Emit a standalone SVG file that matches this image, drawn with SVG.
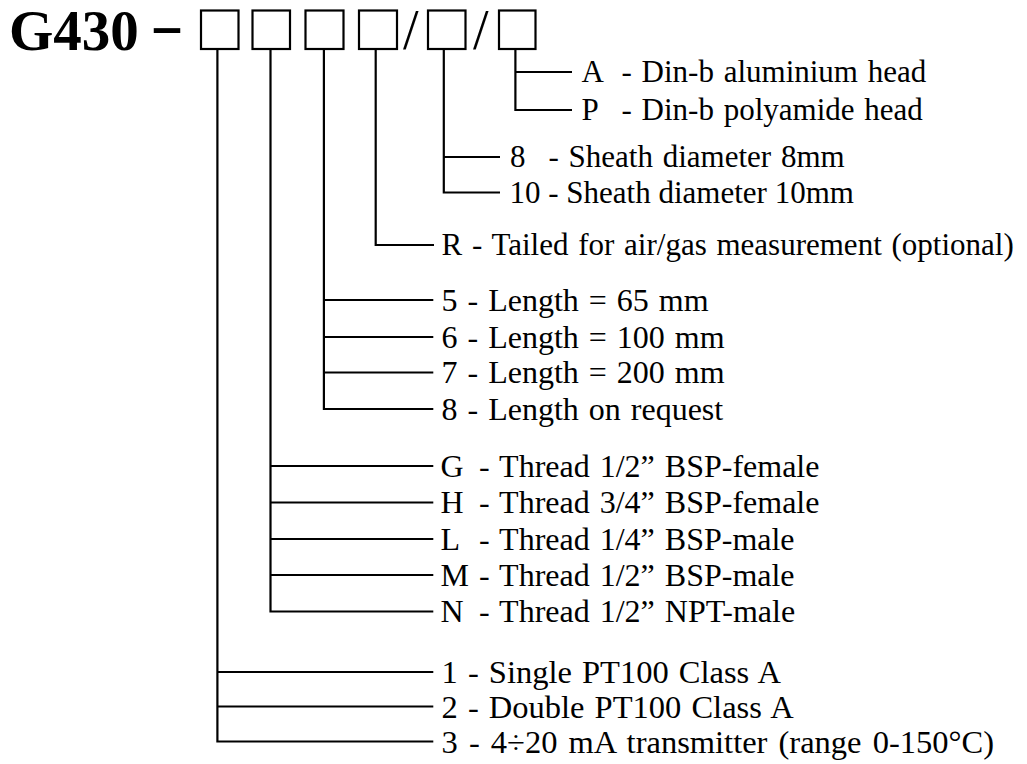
<svg xmlns="http://www.w3.org/2000/svg" width="1027" height="764" viewBox="0 0 1027 764">
<style>
.t{font-family:"Times New Roman","Liberation Serif",Times,serif;font-size:31px;word-spacing:2px;white-space:pre;fill:#000}
.m{font-size:32px}
.b{font-size:32.5px}
.h{font-family:"Times New Roman","Liberation Serif",Times,serif;font-weight:bold;font-size:57px;fill:#000}
.s{font-family:"Times New Roman","Liberation Serif",Times,serif;font-size:56px;fill:#000}
.box{fill:none;stroke:#000;stroke-width:2.2}
.c{fill:none;stroke:#000;stroke-width:2.2}
</style>
<rect width="1027" height="764" fill="#fff"/>
<g id="code">
<text class="h" x="9" y="49.5">G430</text>
<text class="h" x="150" y="43.5" textLength="34" lengthAdjust="spacingAndGlyphs">-</text>
<rect class="box" x="201" y="10.5" width="37.5" height="38.5"/>
<rect class="box" x="252.5" y="10.5" width="37.5" height="38.5"/>
<rect class="box" x="305.5" y="10.5" width="38" height="38.5"/>
<rect class="box" x="359" y="10.5" width="38" height="38.5"/>
<text class="s" x="403" y="48.5">/</text>
<rect class="box" x="428" y="10.5" width="37.5" height="38.5"/>
<text class="s" x="473" y="48.5">/</text>
<rect class="box" x="499" y="10.5" width="36.5" height="38.5"/>
</g>
<g id="connectors">
<path class="c" d="M515.4 49V110H572M515.4 72H572"/>
<path class="c" d="M443.8 49V192.5H500M443.8 157H500"/>
<path class="c" d="M375.7 49V245H434"/>
<path class="c" d="M323.9 49V409H433.3M323.9 300H433.3M323.9 337H433.3M323.9 372.5H433.3"/>
<path class="c" d="M270.5 49V611.5H433.3M270.5 466H433.3M270.5 502.5H433.3M270.5 539H433.3M270.5 575H433.3"/>
<path class="c" d="M217.4 49V741.5H433.3M217.4 672H433.3M217.4 706.5H433.3"/>
</g>
<g id="opt-A"><text class="t" y="82"><tspan x="581.5">A</tspan><tspan x="621.5">- Din-b aluminium head</tspan></text></g>
<g id="opt-P"><text class="t" y="120"><tspan x="581.5">P</tspan><tspan x="621.5">- Din-b polyamide head</tspan></text></g>
<g id="opt-8"><text class="t" y="167"><tspan x="510">8</tspan><tspan x="548.5">- Sheath diameter 8mm</tspan></text></g>
<g id="opt-10"><text class="t" y="202.5" x="509.5" style="word-spacing:0">10 - Sheath diameter 10mm</text></g>
<g id="opt-R"><text class="t" y="255" x="441.5">R - Tailed for air/gas measurement (optional)</text></g>
<g id="opt-L5"><text class="t m" y="310.5" x="441.5">5 - Length = 65 mm</text></g>
<g id="opt-L6"><text class="t m" y="347.5" x="441.5">6 - Length = 100 mm</text></g>
<g id="opt-L7"><text class="t m" y="383" x="441.5">7 - Length = 200 mm</text></g>
<g id="opt-L8"><text class="t m" y="419.5" x="441.5">8 - Length on request</text></g>
<g id="opt-G"><text class="t m" y="476.5"><tspan x="440.5">G</tspan><tspan x="479">- Thread 1/2” BSP-female</tspan></text></g>
<g id="opt-H"><text class="t m" y="513"><tspan x="440.5">H</tspan><tspan x="479">- Thread 3/4” BSP-female</tspan></text></g>
<g id="opt-L"><text class="t m" y="549.5"><tspan x="440.5">L</tspan><tspan x="479">- Thread 1/4” BSP-male</tspan></text></g>
<g id="opt-M"><text class="t m" y="585.5"><tspan x="440.5">M</tspan><tspan x="479">- Thread 1/2” BSP-male</tspan></text></g>
<g id="opt-N"><text class="t m" y="622"><tspan x="440.5">N</tspan><tspan x="479">- Thread 1/2” NPT-male</tspan></text></g>
<g id="opt-1"><text class="t b" y="683" x="441.5">1 - Single PT100 Class A</text></g>
<g id="opt-2"><text class="t b" y="717.5" x="441.5">2 - Double PT100 Class A</text></g>
<g id="opt-3"><text class="t b" y="752.5" x="441.5" style="word-spacing:3px">3 - 4÷20 mA transmitter (range 0-150°C)</text></g>
</svg>
